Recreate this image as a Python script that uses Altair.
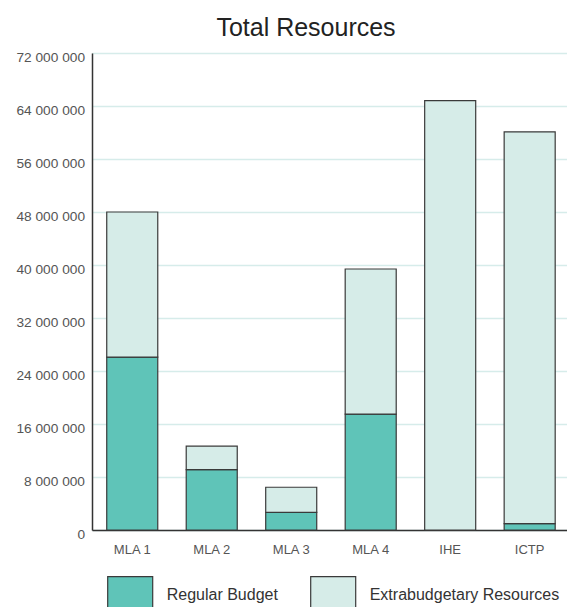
import altair as alt
import pandas as pd

# Budget lines (stack order: regular budget at the base of each bar)
categories = ["MLA 1", "MLA 2", "MLA 3", "MLA 4", "IHE", "ICTP"]
regular_budget = [26_100_000, 9_100_000, 2_650_000, 17_500_000, 0, 950_000]
extrabudgetary = [21_900_000, 3_550_000, 3_800_000, 21_900_000, 64_800_000, 59_150_000]

series = ["Regular Budget", "Extrabudgetary Resources"]
series_colors = ["#5fc4b8", "#d6ece8"]
y_ticks = [0, 8_000_000, 16_000_000, 24_000_000, 32_000_000,
           40_000_000, 48_000_000, 56_000_000, 64_000_000, 72_000_000]

rows = []
for i, cat in enumerate(categories):
    rows.append({"category": cat, "series": series[0],
                 "amount": regular_budget[i], "stack_order": 0})
    rows.append({"category": cat, "series": series[1],
                 "amount": extrabudgetary[i], "stack_order": 1})
df = pd.DataFrame(rows)

FONT = "Liberation Sans"

chart = alt.Chart(df).mark_bar(stroke="#3a3a3a", strokeWidth=1.2).encode(
    x=alt.X(
        "category:N",
        sort=categories,
        scale=alt.Scale(paddingInner=0.358, paddingOuter=0.167, align=0.555),
        axis=alt.Axis(
            title=None, labelAngle=0, ticks=False, labelPadding=13,
            labelFontSize=13, labelColor="#555555", labelFont=FONT,
            domainColor="#333333", domainWidth=1.5, grid=False,
        ),
    ),
    y=alt.Y(
        "amount:Q",
        stack="zero",
        scale=alt.Scale(domain=[0, 72_000_000], nice=False),
        axis=alt.Axis(
            title=None, values=y_ticks, ticks=False,
            labelExpr="replace(format(datum.value, ','), regexp(',', 'g'), ' ')",
            labelPadding=7.5, labelOffset=4, labelFontSize=13.7,
            labelColor="#555555", labelFont=FONT,
            domainColor="#333333", domainWidth=1.5,
            grid=True, gridColor="#d6ecea", gridWidth=1.5,
        ),
    ),
    color=alt.Color(
        "series:N",
        sort=series,
        scale=alt.Scale(domain=series, range=series_colors),
        legend=alt.Legend(
            title=None, orient="none", direction="horizontal",
            legendX=14.7, legendY=518, padding=0,
            symbolType="M-1,-0.8H1V0.8H-1Z", symbolSize=2025,
            symbolStrokeColor="#3a3a3a", symbolStrokeWidth=1.2,
            symbolOpacity=1, labelFontSize=16, labelColor="#333333",
            labelFont=FONT, labelOffset=13, labelLimit=0, columnPadding=29,
        ),
    ),
    order=alt.Order("stack_order:Q", sort="ascending"),
).properties(
    width=475,
    height=477,
    title=alt.Title(
        "Total Resources", fontSize=25, font=FONT, fontWeight="normal",
        color="#222222", anchor="middle", frame="group", dx=-23.5, offset=9,
    ),
    autosize=alt.AutoSizeParams(type="none"),
    padding={"left": 92, "top": 53, "right": 0, "bottom": 77},
).configure_view(
    stroke=None
).configure(
    font=FONT
)

chart.save("out.html", embed_options={"renderer": "svg", "actions": False})
